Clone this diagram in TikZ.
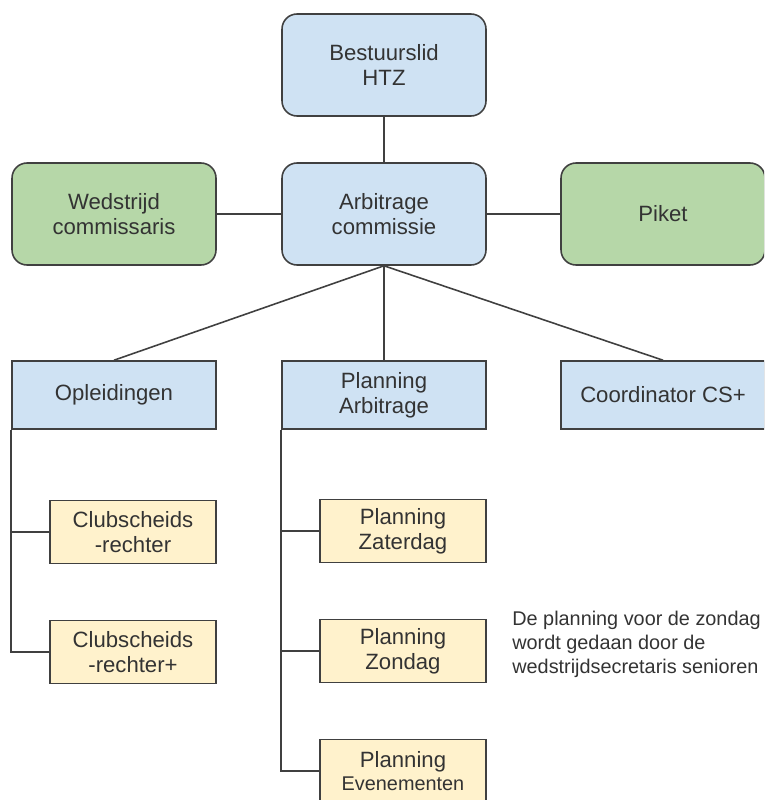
\documentclass[tikz,border=0pt]{standalone}
\usepackage{fontspec}
\setmainfont{Liberation Sans}
\usepackage{tikz}
\definecolor{boxblue}{HTML}{CFE2F3}
\definecolor{boxgreen}{HTML}{B6D7A8}
\definecolor{boxyellow}{HTML}{FFF2CC}
\definecolor{lijn}{HTML}{404040}
\definecolor{tekst}{HTML}{333333}
\tikzset{box/.style={draw=lijn, line width=0.9pt, text=tekst, align=center, font=\fontsize{12.6}{14}\selectfont, inner sep=0pt}}
\tikzset{bestuur/.style={box, fill=boxblue, rounded corners=0.3cm, minimum width=4.08cm, minimum height=2.04cm}}
\tikzset{extern/.style={box, fill=boxgreen, rounded corners=0.3cm, minimum width=4.08cm, minimum height=2.04cm}}
\tikzset{afdeling/.style={box, fill=boxblue, minimum width=4.08cm, minimum height=1.36cm}}
\tikzset{taak/.style={box, fill=boxyellow, minimum width=3.32cm, minimum height=1.26cm}}
\tikzset{verbinding/.style={draw=lijn, line width=0.9pt}}

\begin{document}
\begin{tikzpicture}[x=0.02cm, y=-0.02cm]
            \useasboundingbox (0, 0) rectangle (764, 800);
            \clip (0, 0) rectangle (764, 800);
            \node[bestuur] (bestuur) at (384, 65) {Bestuurslid\\HTZ};
            \node[bestuur] (arbitrage) at (384, 214) {Arbitrage\\commissie};
            \node[extern] (wedstrijd) at (114, 214) {Wedstrijd\\commissaris};
            \node[extern] (piket) at (663, 214) {Piket};
            \node[afdeling] (opleiding) at (114, 395) {Opleidingen};
            \node[afdeling] (planning) at (384, 395) {Planning\\Arbitrage};
            \node[afdeling] (coordinator) at (663, 395) {Coordinator CS+};
            \node[taak] (cs) at (133, 532) {Clubscheids\\-rechter};
            \node[taak] (csplus) at (133, 652) {Clubscheids\\-rechter+};
            \node[taak] (zaterdag) at (403, 531) {Planning\\Zaterdag};
            \node[taak] (zondag) at (403, 651) {Planning\\Zondag};
            \node[taak, font=\fontsize{11.3}{13}\selectfont] (evenement) at (403, 771) {\fontsize{12.6}{14}\selectfont Planning\\Evenementen};
            \node[text=tekst, align=left, anchor=west, inner sep=0pt, font=\fontsize{11.3}{13.6}\selectfont] (notitie) at (512, 644) {De planning voor de zondag\\wordt gedaan door de\\wedstrijdsecretaris senioren};
            % lijnen
            \draw[verbinding] (bestuur) -- (arbitrage);
            \draw[verbinding] (wedstrijd) -- (arbitrage);
            \draw[verbinding] (arbitrage) -- (piket);
            \draw[verbinding] (arbitrage.south) -- (opleiding.north);
            \draw[verbinding] (arbitrage.south) -- (planning.north);
            \draw[verbinding] (arbitrage.south) -- (coordinator.north);
            \draw[verbinding] (opleiding.south west) |- (cs.west);
            \draw[verbinding] (opleiding.south west) |- (csplus.west);
            \draw[verbinding] (planning.south west) |- (zaterdag.west);
            \draw[verbinding] (planning.south west) |- (zondag.west);
            \draw[verbinding] (planning.south west) |- (evenement.west);
        \end{tikzpicture}
\end{document}
